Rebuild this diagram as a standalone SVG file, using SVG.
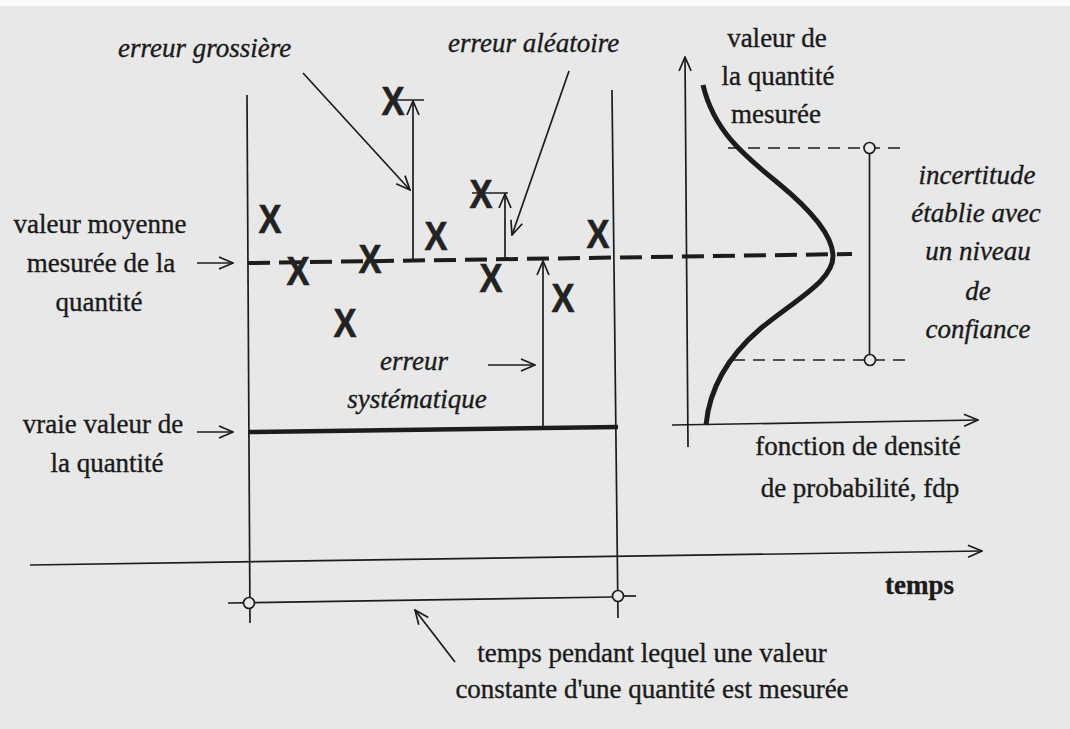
<svg xmlns="http://www.w3.org/2000/svg" width="1070" height="729" viewBox="0 0 1070 729">
<style>
.t{font-family:"Liberation Serif","Times New Roman",serif;font-size:27px;fill:#1a1a1a;stroke:#1a1a1a;stroke-width:0.35}
.i{font-style:italic}
.b{font-weight:bold}
.x{font-family:"Liberation Sans",Arial,sans-serif;font-weight:bold;font-size:40px;fill:#222;stroke:#222;stroke-width:0.6}
.ln{stroke:#1c1c1c;stroke-width:1.7;fill:none}
.thk{stroke:#1c1c1c;stroke-width:4.5;fill:none}
.dm{stroke:#1c1c1c;stroke-width:4;stroke-dasharray:22 9;fill:none}
.dt{stroke:#1c1c1c;stroke-width:1.6;stroke-dasharray:12 8;fill:none}
.c{fill:#e8e8e8;stroke:#1c1c1c;stroke-width:1.7}
</style>
<defs>
<marker id="ah" viewBox="0 0 16 14" refX="15" refY="7" markerWidth="16" markerHeight="14" orient="auto" markerUnits="userSpaceOnUse">
<path d="M1,1 L15,7 L1,13" fill="none" stroke="#1c1c1c" stroke-width="1.7"/>
</marker>
</defs>
<rect width="1070" height="729" fill="#e8e8e8"/>
<rect width="1070" height="6" fill="#fbfbfb"/>

<g id="connectors">
<line class="ln" x1="247" y1="95" x2="250" y2="623"/>
<line class="ln" x1="30" y1="565" x2="982" y2="551" marker-end="url(#ah)"/>
<line class="ln" x1="612" y1="90" x2="618" y2="618"/>
<line class="ln" x1="228" y1="603" x2="613" y2="597"/>
<line class="ln" x1="623" y1="596" x2="636" y2="596"/>
<circle class="c" cx="249" cy="603" r="5.5"/>
<circle class="c" cx="618" cy="596" r="5.5"/>
<line class="dm" x1="248" y1="263" x2="852" y2="254"/>
<line class="thk" x1="248" y1="432" x2="618" y2="427"/>
<line class="ln" x1="688" y1="447" x2="685" y2="57" marker-end="url(#ah)"/>
<line class="ln" x1="672" y1="425" x2="978" y2="420" marker-end="url(#ah)"/>
<path d="M706,425 C709,392 724,360 760,329 C798,298 834,280 833,255 C832,232 806,206 778,183 C746,157 714,132 703,85" fill="none" stroke="#1c1c1c" stroke-width="5"/>
<line class="dt" x1="728" y1="148" x2="904" y2="148"/>
<line class="dt" x1="733" y1="360" x2="908" y2="360"/>
<line class="ln" x1="869.5" y1="153" x2="869.5" y2="355"/>
<circle class="c" cx="869.5" cy="148" r="5.5"/>
<circle class="c" cx="870" cy="360" r="5.5"/>
<line class="ln" x1="413" y1="262" x2="413" y2="101" marker-end="url(#ah)"/>
<line class="ln" x1="391" y1="100" x2="424" y2="100"/>
<line class="ln" x1="505" y1="259" x2="505" y2="194" marker-end="url(#ah)"/>
<line class="ln" x1="472" y1="193" x2="508" y2="193"/>
<line class="ln" x1="543" y1="428" x2="543" y2="261" marker-end="url(#ah)"/>
<line class="ln" x1="303" y1="73" x2="410" y2="190" marker-end="url(#ah)"/>
<line class="ln" x1="569" y1="71" x2="512" y2="235" marker-end="url(#ah)"/>
<line class="ln" x1="455" y1="662" x2="415" y2="610" marker-end="url(#ah)"/>
<line class="ln" x1="197" y1="263" x2="233" y2="263" marker-end="url(#ah)"/>
<line class="ln" x1="197" y1="432" x2="233" y2="432" marker-end="url(#ah)"/>
<line class="ln" x1="488" y1="365" x2="535" y2="365" marker-end="url(#ah)"/>
</g>

<g id="markers">
<text class="x" x="270" y="233" text-anchor="middle" textLength="23" lengthAdjust="spacingAndGlyphs">X</text>
<text class="x" x="298" y="285" text-anchor="middle" textLength="23" lengthAdjust="spacingAndGlyphs">X</text>
<text class="x" x="345" y="337" text-anchor="middle" textLength="23" lengthAdjust="spacingAndGlyphs">X</text>
<text class="x" x="370" y="273" text-anchor="middle" textLength="23" lengthAdjust="spacingAndGlyphs">X</text>
<text class="x" x="393" y="115" text-anchor="middle" textLength="23" lengthAdjust="spacingAndGlyphs">X</text>
<text class="x" x="436" y="250" text-anchor="middle" textLength="23" lengthAdjust="spacingAndGlyphs">X</text>
<text class="x" x="481" y="208" text-anchor="middle" textLength="23" lengthAdjust="spacingAndGlyphs">X</text>
<text class="x" x="491" y="292" text-anchor="middle" textLength="23" lengthAdjust="spacingAndGlyphs">X</text>
<text class="x" x="563" y="312" text-anchor="middle" textLength="23" lengthAdjust="spacingAndGlyphs">X</text>
<text class="x" x="598" y="248" text-anchor="middle" textLength="23" lengthAdjust="spacingAndGlyphs">X</text>
</g>

<g id="label-erreur-grossiere"><text class="t i" x="118" y="57">erreur grossière</text></g>
<g id="label-erreur-aleatoire"><text class="t i" x="448" y="52">erreur aléatoire</text></g>
<g id="label-valeur-quantite" text-anchor="middle">
<text class="t" x="777" y="47">valeur de</text>
<text class="t" x="778" y="85">la quantité</text>
<text class="t" x="776" y="123">mesurée</text>
</g>
<g id="label-incertitude" text-anchor="middle">
<text class="t i" x="977" y="184">incertitude</text>
<text class="t i" x="976" y="222">établie avec</text>
<text class="t i" x="978" y="260">un niveau</text>
<text class="t i" x="978" y="300">de</text>
<text class="t i" x="978" y="338">confiance</text>
</g>
<g id="label-valeur-moyenne" text-anchor="middle">
<text class="t" x="100" y="233">valeur moyenne</text>
<text class="t" x="101" y="272">mesurée de la</text>
<text class="t" x="99" y="311">quantité</text>
</g>
<g id="label-vraie-valeur" text-anchor="middle">
<text class="t" x="103" y="433">vraie valeur de</text>
<text class="t" x="107" y="472">la quantité</text>
</g>
<g id="label-erreur-systematique" text-anchor="middle">
<text class="t i" x="414" y="370">erreur</text>
<text class="t i" x="417" y="408">systématique</text>
</g>
<g id="label-fdp" text-anchor="middle">
<text class="t" x="858" y="455">fonction de densité</text>
<text class="t" x="860" y="497">de probabilité, fdp</text>
</g>
<g id="label-temps"><text class="t b" x="885" y="594">temps</text></g>
<g id="label-periode" text-anchor="middle">
<text class="t" x="652" y="662">temps pendant lequel une valeur</text>
<text class="t" x="652" y="698">constante d'une quantité est mesurée</text>
</g>
</svg>
